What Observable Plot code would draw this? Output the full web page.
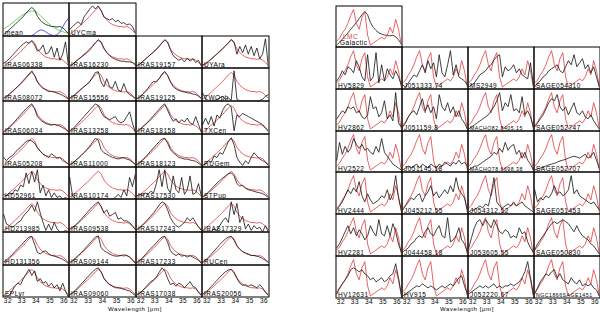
<!DOCTYPE html>
<html><head><meta charset="utf-8">
<script src="https://cdn.jsdelivr.net/npm/d3@7"></script>
<script src="https://cdn.jsdelivr.net/npm/@observablehq/plot@0.6"></script>
<style>
body{margin:0;background:#fff;}
#c{position:relative;width:600px;height:320px;overflow:hidden;font-family:"Liberation Sans",Arial,sans-serif;}
.xl{position:absolute;font-size:6px;line-height:6px;letter-spacing:0.6px;color:#000;white-space:nowrap;transform:translateX(-50%);}
</style></head><body><div id="c"></div>
<script>
// wavelength grid (micron)
const wl = [31.7,31.9,32.1,32.3,32.5,32.7,32.9,33.1,33.3,33.5,33.7,33.9,34.1,34.3,34.5,34.7,34.9,35.1,35.3,35.5,35.7,35.9,36.1,36.3];
const xDomain = [31.65, 36.35];
const xTicks = [32, 33, 34, 35, 36];
const axisTitle = "Wavelength [μm]";

// mean profiles
const galMean = [0.05,0.12,0.2,0.28,0.36,0.45,0.53,0.62,0.72,0.82,0.9,0.82,0.62,0.5,0.42,0.36,0.33,0.3,0.3,0.28,0.3,0.26,0.18,0.08];
const galFit  = [0.22,0.28,0.34,0.41,0.48,0.55,0.62,0.68,0.73,0.77,0.79,0.78,0.73,0.65,0.56,0.47,0.39,0.32,0.26,0.21,0.17,0.14,0.11,0.09];
const galComp1 = [null,null,null,null,null,null,null,null,null,null,0.01,0.07,0.14,0.19,0.18,0.13,0.07,0.03,0.01,null,null,null,null,null];
const galComp2 = [null,null,null,null,null,null,null,null,null,null,null,null,null,null,null,null,null,null,0.01,0.04,0.13,0.28,0.44,0.55];
const lmcMean = [0.15,0.22,0.35,0.45,0.6,0.8,0.95,0.6,0.45,0.75,0.9,0.3,0.05,0.1,0.15,0.2,0.25,0.2,0.3,0.5,0.35,0.7,0.45,0.05];

// Galactic individual spectra
const s_UYCma    = [0.2,0.3,0.38,0.45,0.35,0.6,0.72,0.85,0.95,0.85,0.95,0.8,0.6,0.55,0.5,0.55,0.45,0.5,0.4,0.42,0.35,0.38,0.3,0.1];
const s_IRAS06338 = [0.15,0.22,0.3,0.4,0.5,0.6,0.7,0.78,0.85,0.8,0.88,0.75,0.55,0.6,0.75,0.45,0.5,0.7,0.35,0.65,0.25,0.45,0.85,0.1];
const s_IRAS16230 = [0.08,0.12,0.2,0.28,0.35,0.42,0.5,0.58,0.7,0.82,0.92,0.85,0.65,0.5,0.4,0.33,0.28,0.25,0.22,0.22,0.2,0.2,0.18,0.12];
const s_IRAS19157 = [0.08,0.12,0.2,0.28,0.36,0.44,0.52,0.6,0.7,0.82,0.92,0.85,0.6,0.4,0.32,0.25,0.3,0.2,0.32,0.22,0.3,0.18,0.25,0.08];
const s_UYAra     = [0.1,0.15,0.22,0.3,0.38,0.46,0.55,0.63,0.72,0.82,0.93,0.85,0.45,0.7,0.5,0.75,0.45,0.7,0.4,0.65,0.3,0.45,0.95,0.05];
const s_IRAS08072 = [0.1,0.15,0.22,0.3,0.38,0.46,0.55,0.65,0.75,0.85,0.95,0.8,0.6,0.48,0.4,0.35,0.3,0.3,0.28,0.25,0.22,0.18,0.12,0.06];
const s_IRAS15556 = [0.1,0.15,0.22,0.3,0.38,0.45,0.52,0.6,0.75,0.9,0.92,0.6,0.45,0.7,0.45,0.4,0.62,0.35,0.3,0.55,0.3,0.2,0.15,0.08];
const s_IRAS19125 = [0.08,0.12,0.2,0.3,0.4,0.52,0.62,0.6,0.7,0.85,0.93,0.8,0.6,0.45,0.38,0.33,0.3,0.28,0.26,0.25,0.22,0.2,0.15,0.08];
const s_TWOph     = [0.25,0.05,0.02,0.0,0.02,0.05,0.1,0.15,0.05,0.1,0.02,0.95,0.05,0.0,0.0,0.0,0.0,0.0,0.0,0.0,0.02,0.05,0.15,0.2];
const s_IRAS06034 = [0.08,0.14,0.22,0.3,0.4,0.5,0.6,0.7,0.8,0.88,0.95,0.8,0.55,0.45,0.38,0.33,0.3,0.28,0.3,0.28,0.25,0.2,0.15,0.08];
const s_IRAS13258 = [0.1,0.16,0.25,0.35,0.45,0.55,0.65,0.75,0.85,0.95,0.9,0.7,0.55,0.5,0.45,0.5,0.55,0.4,0.35,0.4,0.55,0.7,0.35,0.05];
const s_IRAS18158 = [0.08,0.14,0.22,0.3,0.38,0.48,0.58,0.68,0.78,0.88,0.95,0.75,0.55,0.4,0.48,0.35,0.45,0.38,0.5,0.35,0.3,0.55,0.3,0.05];
const s_TXCen     = [0.3,0.5,0.3,0.55,0.25,0.6,0.5,0.75,0.9,0.95,0.85,0.1,0.6,0.55,0.65,0.6,0.55,0.5,0.45,0.4,0.35,0.3,0.2,0.1];
const s_IRAS05208 = [0.3,0.2,0.3,0.35,0.45,0.55,0.62,0.72,0.8,0.85,0.82,0.75,0.6,0.5,0.4,0.35,0.3,0.42,0.35,0.28,0.3,0.2,0.15,0.1];
const s_IRAS11000 = [0.08,0.12,0.2,0.28,0.36,0.45,0.55,0.65,0.78,0.9,0.85,0.55,0.45,0.4,0.35,0.3,0.28,0.25,0.28,0.3,0.25,0.22,0.15,0.08];
const s_IRAS18123 = [0.08,0.14,0.22,0.3,0.4,0.5,0.6,0.7,0.8,0.88,0.9,0.75,0.55,0.45,0.38,0.3,0.28,0.25,0.25,0.22,0.2,0.18,0.12,0.05];
const s_RUGem     = [0.05,0.1,0.2,0.15,0.35,0.3,0.45,0.4,0.6,0.8,0.92,0.7,0.3,0.15,0.05,0.2,0.1,0.3,0.45,0.35,0.25,0.2,0.15,0.05];
const s_HD52961   = [0.15,0.1,0.2,0.15,0.3,0.25,0.45,0.4,0.85,0.5,0.9,0.55,0.95,0.2,0.45,0.1,0.3,0.05,0.2,0.05,0.1,0.0,0.05,0.0];
const s_IRAS10174 = [0.7,0.1,0.02,0.0,0.0,0.0,0.0,0.0,0.0,0.0,0.0,0.0,0.0,0.0,0.0,0.0,0.05,0.15,0.05,0.3,0.1,0.7,0.4,0.8];
const s_IRAS17530 = [0.1,0.15,0.12,0.2,0.15,0.25,0.2,0.5,0.95,0.4,0.95,0.35,0.2,0.75,0.3,0.2,0.7,0.15,0.3,0.75,0.15,0.2,0.5,0.1];
const s_STPup     = [0.08,0.14,0.22,0.32,0.42,0.52,0.6,0.68,0.75,0.82,0.85,0.75,0.5,0.42,0.45,0.35,0.3,0.28,0.25,0.22,0.2,0.18,0.12,0.05];
const s_HD213985  = [0.55,0.25,0.2,0.15,0.2,0.3,0.35,0.5,0.6,0.7,0.85,0.65,0.95,0.6,0.3,0.05,0.25,0.05,0.3,0.1,0.0,0.0,0.05,0.0];
const s_IRAS09538 = [0.1,0.15,0.22,0.3,0.4,0.5,0.6,0.7,0.8,0.88,0.95,0.8,0.6,0.7,0.5,0.55,0.62,0.4,0.45,0.35,0.35,0.3,0.2,0.08];
const s_IRAS17243 = [0.08,0.14,0.22,0.3,0.4,0.5,0.6,0.72,0.85,0.95,0.9,0.7,0.45,0.3,0.2,0.15,0.22,0.3,0.45,0.35,0.45,0.3,0.15,0.05];
const s_IRAS17329 = [0.05,0.0,0.05,0.0,0.1,0.05,0.2,0.35,0.45,0.3,0.95,0.55,0.9,0.3,0.5,0.1,0.25,0.05,0.2,0.1,0.15,0.0,0.2,0.0];
const s_HD131356  = [0.1,0.16,0.24,0.32,0.42,0.52,0.6,0.7,0.8,0.88,0.9,0.65,0.4,0.35,0.42,0.45,0.35,0.3,0.28,0.25,0.22,0.18,0.12,0.05];
const s_IRAS09144 = [0.08,0.14,0.22,0.3,0.38,0.48,0.58,0.68,0.78,0.88,0.92,0.55,0.45,0.4,0.35,0.3,0.28,0.28,0.3,0.32,0.3,0.25,0.15,0.05];
const s_IRAS17233 = [0.08,0.14,0.22,0.32,0.42,0.52,0.6,0.7,0.8,0.88,0.9,0.72,0.45,0.35,0.3,0.35,0.28,0.3,0.25,0.3,0.25,0.2,0.15,0.05];
const s_RUCen     = [0.1,0.16,0.24,0.34,0.44,0.54,0.64,0.74,0.82,0.88,0.9,0.78,0.6,0.5,0.42,0.38,0.35,0.3,0.3,0.28,0.25,0.2,0.15,0.08];
const s_EPLyr     = [0.05,0.0,0.05,0.2,0.35,0.45,0.4,0.6,0.75,0.9,0.7,0.85,0.5,0.6,0.45,0.5,0.35,0.45,0.3,0.4,0.2,0.45,0.2,0.0];
const s_IRAS09060 = [0.08,0.14,0.22,0.32,0.42,0.52,0.62,0.72,0.82,0.9,0.95,0.82,0.6,0.48,0.4,0.35,0.3,0.3,0.28,0.25,0.22,0.2,0.12,0.05];
const s_IRAS17038 = [0.08,0.12,0.2,0.3,0.4,0.5,0.55,0.65,0.8,0.95,0.85,0.6,0.4,0.45,0.35,0.45,0.4,0.3,0.4,0.5,0.35,0.3,0.15,0.05];
const s_IRAS20056 = [0.1,0.16,0.24,0.34,0.44,0.54,0.64,0.74,0.82,0.88,0.9,0.78,0.6,0.45,0.38,0.4,0.35,0.4,0.35,0.3,0.4,0.3,0.15,0.05];

// LMC individual spectra
const r_HV5829   = [0.2,0.3,0.45,0.35,0.55,0.5,0.4,0.7,0.55,0.3,0.2,0.85,0.2,0.3,0.9,0.15,0.6,0.2,0.5,0.35,0.25,0.45,0.3,0.1];
const r_J051333  = [0.1,0.05,0.15,0.25,0.35,0.3,0.45,0.6,0.4,0.7,0.5,0.65,0.3,0.85,0.4,0.3,0.6,0.95,0.35,0.6,0.3,0.25,0.2,0.1];
const r_MS2949   = [0.05,0.1,0.15,0.25,0.35,0.4,0.45,0.55,0.6,0.72,0.8,0.85,0.3,0.55,0.45,0.5,0.6,0.4,0.5,0.35,0.3,0.25,0.65,0.1];
const r_SAGE054310 = [0.05,0.15,0.2,0.3,0.35,0.45,0.5,0.55,0.6,0.45,0.4,0.55,0.7,0.6,0.85,0.55,0.65,0.75,0.5,0.6,0.4,0.55,0.3,0.05];
const r_HV2862   = [0.3,0.4,0.5,0.45,0.6,0.55,0.6,0.45,0.5,0.35,0.3,0.4,0.85,0.55,0.6,0.35,0.45,0.75,0.3,0.4,0.25,0.95,0.2,0.1];
const r_J051159  = [0.1,0.2,0.35,0.45,0.5,0.4,0.6,0.8,0.5,0.65,0.45,0.6,0.3,0.9,0.6,0.5,0.7,0.45,0.6,0.35,0.5,0.3,0.2,0.05];
const r_MACHO82  = [0.05,0.1,0.15,0.2,0.25,0.3,0.35,0.4,0.5,0.6,0.75,0.95,0.5,0.7,0.6,0.9,0.5,0.55,0.45,0.85,0.4,0.5,0.35,0.1];
const r_SAGE052747 = [0.1,0.2,0.3,0.4,0.55,0.7,0.8,0.75,0.9,0.6,0.5,0.6,0.4,0.55,0.7,0.45,0.4,0.5,0.35,0.3,0.4,0.25,0.15,0.05];
const r_HV2522   = [0.3,0.75,0.45,0.65,0.5,0.6,0.85,0.7,0.6,0.7,0.55,0.6,0.5,0.45,0.65,0.5,0.85,0.5,0.4,0.3,0.2,0.15,0.1,0.05];
const r_J051145  = [0.05,0.1,0.15,0.1,0.15,0.2,0.1,0.2,0.15,0.1,0.2,0.15,0.1,0.2,0.15,0.25,0.2,0.15,0.25,0.2,0.3,0.2,0.25,0.15];
const r_MACHO78  = [0.05,0.1,0.15,0.15,0.2,0.25,0.3,0.35,0.4,0.5,0.45,0.6,0.5,0.75,0.55,0.65,0.7,0.45,0.55,0.35,0.5,0.3,0.2,0.05];
const r_SAGE052707 = [0.05,0.08,0.1,0.12,0.15,0.18,0.2,0.22,0.25,0.28,0.3,0.32,0.35,0.38,0.4,0.38,0.35,0.4,0.45,0.35,0.4,0.5,0.3,0.1];
const r_HV2444   = [0.1,0.2,0.3,0.45,0.6,0.5,0.65,0.55,0.8,0.45,0.3,0.5,0.35,0.25,0.3,0.35,0.45,0.4,0.6,0.35,0.5,0.95,0.4,0.1];
const r_J045212  = [0.1,0.2,0.3,0.4,0.35,0.45,0.5,0.3,0.45,0.55,0.7,0.45,0.55,0.4,0.5,0.6,0.5,0.7,0.55,0.9,0.6,0.5,0.4,0.1];
const r_J054312  = [0.05,0.1,0.1,0.15,0.2,0.15,0.25,0.2,0.5,0.9,0.3,0.2,0.15,0.2,0.25,0.2,0.3,0.2,0.25,0.3,0.2,0.15,0.1,0.05];
const r_SAGE051453 = [0.6,0.3,0.4,0.35,0.45,0.4,0.5,0.7,0.5,0.55,0.45,0.5,0.6,0.95,0.5,0.6,0.45,0.4,0.35,0.3,0.25,0.3,0.2,0.1];
const r_HV2281   = [0.2,0.3,0.45,0.6,0.75,0.55,0.7,0.5,0.65,0.55,0.4,0.5,0.75,0.6,0.5,0.9,0.55,0.5,0.75,0.5,0.8,0.6,0.3,0.1];
const r_J044458  = [0.1,0.15,0.2,0.3,0.35,0.45,0.5,0.45,0.6,0.7,0.55,0.5,0.65,0.75,0.5,0.45,0.95,0.35,0.4,0.5,0.7,0.4,0.3,0.1];
const r_J053605  = [0.2,0.45,0.7,0.85,0.9,0.75,0.9,0.8,0.7,0.9,0.75,0.6,0.55,0.65,0.6,0.45,0.5,0.45,0.7,0.55,0.6,0.35,0.2,0.1];
const r_SAGE050830 = [0.15,0.3,0.4,0.5,0.6,0.7,0.8,0.85,0.8,0.85,0.9,0.85,0.8,0.7,0.6,0.75,0.6,0.5,0.45,0.4,0.3,0.25,0.15,0.05];
const r_HV12631  = [0.1,0.25,0.35,0.45,0.55,0.7,0.75,0.7,0.65,0.7,0.6,0.55,0.45,0.5,0.4,0.45,0.5,0.4,0.45,0.55,0.6,0.85,0.5,0.1];
const r_HV915    = [0.05,0.1,0.15,0.2,0.25,0.3,0.28,0.35,0.3,0.25,0.3,0.25,0.2,0.25,0.3,0.25,0.3,0.35,0.3,0.4,0.5,0.55,0.3,0.1];
const r_J052220  = [0.1,0.15,0.2,0.25,0.3,0.25,0.3,0.25,0.3,0.35,0.25,0.3,0.25,0.3,0.3,0.35,0.3,0.35,0.4,0.5,0.65,0.9,0.5,0.1];
const r_NGC1866  = [0.1,0.25,0.4,0.5,0.6,0.55,0.65,0.7,0.5,0.6,0.45,0.4,0.35,0.5,0.4,0.35,0.45,0.3,0.35,0.3,0.35,0.25,0.2,0.05];

// panel names (row-major)
const leftNames = ["IRAS06338","IRAS16230","IRAS19157","UYAra","IRAS08072","IRAS15556","IRAS19125","TWOph",
  "IRAS06034","IRAS13258","IRAS18158","TXCen","IRAS05208","IRAS11000","IRAS18123","RUGem",
  "HD52961","IRAS10174","IRAS17530","STPup","HD213985","IRAS09538","IRAS17243","IRAS17329",
  "HD131356","IRAS09144","IRAS17233","RUCen","EPLyr","IRAS09060","IRAS17038","IRAS20056"];
const leftSpectra = [s_IRAS06338,s_IRAS16230,s_IRAS19157,s_UYAra,s_IRAS08072,s_IRAS15556,s_IRAS19125,s_TWOph,
  s_IRAS06034,s_IRAS13258,s_IRAS18158,s_TXCen,s_IRAS05208,s_IRAS11000,s_IRAS18123,s_RUGem,
  s_HD52961,s_IRAS10174,s_IRAS17530,s_STPup,s_HD213985,s_IRAS09538,s_IRAS17243,s_IRAS17329,
  s_HD131356,s_IRAS09144,s_IRAS17233,s_RUCen,s_EPLyr,s_IRAS09060,s_IRAS17038,s_IRAS20056];
const rightNames = ["HV5829","J051333.74","MS2949","SAGE054310","HV2862","J051159.8","MACHO82.8405.15","SAGE052747",
  "HV2522","J051145.18","MACHO78.6698.38","SAGE052707","HV2444","J045212.55","J054312.52","SAGE051453",
  "HV2281","J044458.18","J053605.55","SAGE050830","HV12631","HV915","J052220.67","NGC1866SAGE1451"];
const rightSpectra = [r_HV5829,r_J051333,r_MS2949,r_SAGE054310,r_HV2862,r_J051159,r_MACHO82,r_SAGE052747,
  r_HV2522,r_J051145,r_MACHO78,r_SAGE052707,r_HV2444,r_J045212,r_J054312,r_SAGE051453,
  r_HV2281,r_J044458,r_J053605,r_SAGE050830,r_HV12631,r_HV915,r_J052220,r_NGC1866];

const RED = "#e23b3b", BLACK = "#111", GREEN = "#44cc33", BLUE = "#2233dd";
const container = document.getElementById("c");

function rowsOf(vals){ return wl.map((x,i)=>({x, y: vals[i]})); }

function drawPanel(left, top, right, bottom, lines, labels, axis){
  const w = right - left, h = bottom - top;
  const mb = axis ? 9 : 0;
  const marks = lines.map(L => Plot.line(rowsOf(L.v), {x:"x", y:"y", stroke:L.c, strokeWidth:0.8, clip:true}));
  marks.push(Plot.frame({stroke:"#000", strokeWidth:1}));
  for (const t of labels) {
    const fs = t.text.length > 12 ? 5.2 : (t.text.length > 10 ? 5.8 : 6.5);
    marks.push(Plot.text([t.text], {text:d=>d, frameAnchor:"bottom-left", dx:t.dx ?? 2, dy:t.dy ?? -1.5, fill:t.c || "#000", fontSize:fs}));
  }
  const svg = Plot.plot({
    width: w + 1, height: h + 1 + mb,
    marginTop: 0.5, marginLeft: 0.5, marginRight: 0.5, marginBottom: 0.5 + mb,
    x: {domain: xDomain, axis: axis ? "bottom" : null, ticks: xTicks, tickSize: 0, tickPadding: 1, tickFormat: d => String(d), label: null},
    y: {domain: [0, 1.04], axis: null},
    style: {fontFamily: '"Liberation Sans", Arial, sans-serif', fontSize: "6.5px", letterSpacing: "0.5px", background: "transparent", overflow: "visible"},
    marks
  });
  svg.style.position = "absolute";
  svg.style.left = left + "px";
  svg.style.top = top + "px";
  container.appendChild(svg);
}

// left grid geometry
const LX = [0,1,2,3,4].map(i => Math.round(2 + i*66.4));
const LY = [0,1,2,3,4,5,6,7,8,9].map(i => Math.round(2 + i*32.7));
drawPanel(LX[0], LY[0], LX[1], LY[1], [
  {v: galComp1, c: BLUE}, {v: galComp2, c: BLUE}, {v: galFit, c: GREEN}, {v: galMean, c: BLACK}
], [{text: "mean"}], false);
drawPanel(LX[1], LY[0], LX[2], LY[1], [{v: galMean, c: RED}, {v: s_UYCma, c: BLACK}], [{text: "UYCma"}], false);
leftNames.forEach((name, i) => {
  const r = Math.floor(i/4) + 1, col = i % 4;
  drawPanel(LX[col], LY[r], LX[col+1], LY[r+1], [{v: galMean, c: RED}, {v: leftSpectra[i], c: BLACK}], [{text: name}], r === 8);
});

// right grid geometry
const RX = [0,1,2,3,4].map(i => Math.round(335 + i*66));
const RY = [0,1,2,3,4,5,6].map(i => Math.round(46 + i*41.75));
drawPanel(RX[0], 5, RX[1], RY[0], [{v: galMean, c: BLACK}, {v: lmcMean, c: RED}],
  [{text: "Galactic", dx: 4, dy: -2}, {text: "LMC", c: RED, dx: 7, dy: -8.5}], false);
rightNames.forEach((name, i) => {
  const r = Math.floor(i/4), col = i % 4;
  drawPanel(RX[col], RY[r], RX[col+1], RY[r+1], [{v: lmcMean, c: RED}, {v: rightSpectra[i], c: BLACK}], [{text: name}], r === 5);
});

// axis titles
function title(x){
  const d = document.createElement("div");
  d.className = "xl"; d.textContent = axisTitle;
  d.style.left = x + "px"; d.style.top = "306px";
  container.appendChild(d);
}
title(LX[2]);
title(RX[2]);
</script>
</body></html>
